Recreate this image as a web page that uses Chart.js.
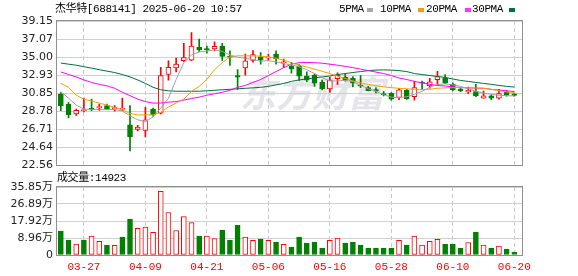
<!DOCTYPE html>
<html>
<head>
<meta charset="utf-8">
<script src="https://cdn.jsdelivr.net/npm/chart.js@4.4.0/dist/chart.umd.min.js"></script>
<style>
body{margin:0;background:#fff;width:578px;height:276px;overflow:hidden;position:relative;font-family:"Liberation Mono","Noto Sans CJK SC",monospace;}
canvas{position:absolute;left:0;}
#kline{top:0}
#vol{top:172px}
.t{position:absolute;font-size:11px;letter-spacing:-0.4px;color:#000;white-space:nowrap;line-height:12px}
.sq{position:absolute;width:6px;height:4px;top:8px}
</style>
</head>
<body>
<canvas id="kline" width="578" height="176"></canvas>
<canvas id="vol" width="578" height="104"></canvas>
<div class="t" style="left:55px;top:3px">杰华特[688141] 2025-06-20 10:57</div>
<div class="t" style="left:339px;top:3px">5PMA</div><div class="sq" style="left:367px;background:#a8a8a8"></div>
<div class="t" style="left:380px;top:3px">10PMA</div><div class="sq" style="left:418px;background:#f0a000"></div>
<div class="t" style="left:426px;top:3px">20PMA</div><div class="sq" style="left:465px;background:#ff33ff"></div>
<div class="t" style="left:472px;top:3px">30PMA</div><div class="sq" style="left:509px;background:#00703c"></div>
<div class="t" style="left:57px;top:172px">成交量:14923</div>
<script>
const dates = ['03-24','03-25','03-26','03-27','03-28','03-31','04-01','04-02','04-03','04-07',
  '04-08','04-09','04-10','04-11','04-14','04-15','04-16','04-17','04-18','04-21',
  '04-22','04-23','04-24','04-25','04-28','04-29','04-30','05-06','05-07','05-08',
  '05-09','05-12','05-13','05-14','05-15','05-16','05-19','05-20','05-21','05-22',
  '05-23','05-26','05-27','05-28','05-29','05-30','06-03','06-04','06-05','06-06',
  '06-09','06-10','06-11','06-12','06-13','06-16','06-17','06-18','06-19','06-20'];
const dateTickIdx = [3, 11, 19, 27, 35, 43, 51, 59];

const openP = [30.74, 29.61, 28.47, 28.85, 29.12, 29.19, 29.42, 29.08, 29.00, 27.23,
  26.70, 26.59, 29.04, 28.55, 33.00, 33.75, 34.58, 34.66, 36.13, 35.94,
  35.94, 36.28, 35.07, 32.89, 33.75, 34.62, 35.03, 34.88, 35.34, 34.35,
  33.94, 33.94, 32.81, 32.92, 32.13, 31.34, 32.51, 32.70, 32.55, 31.75,
  31.49, 31.26, 30.81, 30.85, 30.36, 31.19, 30.47, 32.09, 31.68, 32.40,
  32.62, 31.87, 31.34, 31.00, 31.04, 30.28, 30.55, 30.28, 31.00, 30.77];
const closeP = [29.42, 28.40, 28.89, 28.93, 29.00, 29.30, 29.08, 29.15, 29.08, 25.83,
  26.97, 27.80, 28.36, 32.89, 33.83, 34.20, 34.96, 36.28, 35.83, 35.86,
  36.24, 35.07, 34.99, 32.70, 34.58, 35.30, 34.66, 34.99, 34.81, 34.43,
  33.64, 32.81, 32.36, 32.02, 31.38, 32.36, 32.92, 32.36, 32.02, 31.68,
  31.15, 31.08, 30.70, 30.17, 31.23, 30.21, 31.49, 32.02, 32.17, 32.77,
  32.02, 31.23, 31.11, 31.19, 30.55, 30.55, 30.28, 30.81, 30.62, 30.59];
const highP = [30.93, 29.79, 29.04, 30.28, 30.17, 29.61, 29.61, 29.42, 30.28, 29.42,
  27.16, 29.23, 29.15, 33.83, 34.58, 34.88, 36.58, 37.82, 37.07, 36.28,
  36.77, 36.58, 35.71, 33.56, 35.34, 35.75, 35.52, 35.34, 35.71, 34.77,
  34.39, 34.13, 33.30, 33.07, 32.36, 32.70, 33.19, 33.07, 32.77, 32.89,
  31.64, 31.49, 31.08, 30.93, 31.42, 31.30, 32.24, 32.24, 32.55, 33.38,
  33.00, 32.06, 31.49, 31.57, 31.87, 31.11, 30.66, 31.30, 31.19, 30.77];
const lowP = [28.85, 28.02, 28.29, 28.70, 28.85, 28.89, 29.00, 28.78, 28.85, 24.22,
  26.51, 25.83, 28.21, 28.47, 32.36, 33.30, 34.51, 34.58, 35.64, 35.45,
  35.71, 34.62, 34.05, 31.30, 32.92, 34.43, 34.20, 34.62, 34.20, 33.83,
  33.15, 32.32, 32.17, 31.64, 31.23, 30.96, 31.87, 32.24, 31.57, 31.49,
  31.11, 30.89, 30.55, 30.06, 30.10, 30.13, 30.06, 31.30, 31.42, 31.79,
  31.94, 31.11, 31.04, 30.81, 30.47, 30.28, 30.10, 30.17, 30.51, 30.51];

const ma5 = [31.02, 30.28, 29.49, 29.04, 28.98, 28.98, 28.98, 28.98, 28.81, 28.25,
  27.80, 27.57, 28.14, 29.15, 30.28, 32.43, 34.36, 35.26, 35.60, 35.71,
  35.83, 35.66, 35.26, 34.98, 34.87, 34.70, 34.53, 34.58, 34.47, 34.24,
  34.13, 33.90, 33.56, 33.11, 32.66, 32.26, 32.26, 32.32, 32.21, 31.75,
  31.36, 31.08, 30.68, 30.40, 30.34, 30.45, 30.74, 31.08, 31.53, 31.87,
  31.92, 31.81, 31.64, 31.36, 31.08, 30.85, 30.74, 30.62, 30.57, 30.54];
const ma10 = [31.98, 31.53, 30.62, 30.17, 29.95, 29.72, 29.49, 29.23, 28.93, 28.53,
  28.36, 28.36, 28.36, 28.67, 29.27, 29.72, 30.17, 31.08, 31.64, 32.43,
  33.56, 34.36, 35.03, 35.15, 35.15, 35.15, 35.11, 35.03, 34.87, 34.64,
  34.36, 34.07, 33.87, 33.62, 33.37, 33.11, 32.81, 32.55, 32.26, 32.04,
  31.87, 31.70, 31.59, 31.49, 31.42, 31.36, 31.30, 31.25, 31.30, 31.42,
  31.47, 31.49, 31.53, 31.47, 31.45, 31.42, 31.30, 31.13, 31.00, 30.93];
const ma20 = [33.30, 33.00, 32.72, 32.38, 32.09, 31.87, 31.70, 31.42, 30.96, 30.57,
  30.17, 29.89, 29.72, 29.72, 29.83, 29.89, 30.06, 30.25, 30.40, 30.62,
  30.79, 30.96, 31.19, 31.53, 31.75, 32.09, 32.43, 32.89, 33.34, 33.79,
  34.19, 34.36, 34.39, 34.36, 34.30, 34.19, 34.07, 33.94, 33.79, 33.62,
  33.45, 33.28, 33.11, 32.89, 32.60, 32.43, 32.21, 32.04, 31.87, 31.75,
  31.68, 31.59, 31.49, 31.47, 31.44, 31.42, 31.30, 31.22, 31.13, 31.04];
const ma30 = [34.32, 34.19, 34.07, 33.90, 33.73, 33.56, 33.39, 33.23, 33.00, 32.72,
  32.38, 31.98, 31.53, 31.25, 31.13, 31.08, 31.08, 31.08, 31.08, 31.13,
  31.19, 31.25, 31.30, 31.36, 31.42, 31.47, 31.53, 31.64, 31.81, 31.98,
  32.21, 32.38, 32.49, 32.60, 32.72, 32.83, 33.00, 33.11, 33.23, 33.34,
  33.45, 33.51, 33.53, 33.51, 33.45, 33.34, 33.11, 33.00, 32.89, 32.77,
  32.66, 32.49, 32.32, 32.21, 32.09, 31.98, 31.87, 31.75, 31.64, 31.56];

// volume in 万
const volume = [12.6, 7.9, 5.8, 7.9, 10.0, 7.2, 5.2, 5.1, 9.4, 18.9,
  14.0, 14.7, 11.9, 33.6, 22.4, 12.9, 20.3, 17.1, 10.0, 10.0,
  8.7, 13.1, 7.9, 15.7, 9.4, 7.7, 8.4, 7.7, 6.8, 5.6,
  4.2, 9.4, 6.3, 6.8, 3.7, 7.7, 8.9, 6.3, 6.8, 5.2,
  3.7, 3.7, 3.7, 3.7, 7.7, 5.2, 10.0, 5.2, 7.2, 8.2,
  5.8, 5.8, 3.7, 6.6, 12.1, 5.2, 3.7, 4.7, 3.1, 1.49];
const volUp = [0,0,1,0,1,1,0,1,0,0, 1,1,1,1,1,1,1,1,0,1, 1,0,0,0,1,1,0,1,0,1,
  0,0,0,0,0,1,1,0,0,0, 0,0,0,0,1,0,1,1,1,1, 0,0,0,1,0,1,0,1,0,0];

const priceTicks = [22.56, 24.64, 26.71, 28.78, 30.85, 32.93, 35.00, 37.07, 39.15];
const volTicks = [0, 8.96, 17.92, 26.89, 35.85];

const RED = '#ff0000', GREEN = '#008000';
const up = closeP.map((c, i) => c >= openP[i]);
const pts = arr => arr.map((v, i) => ({x: i, y: v}));

const frame = {
    id: 'frame',
    afterDatasetsDraw(chart) {
        const a = chart.chartArea, ctx = chart.ctx;
        ctx.save();
        ctx.strokeStyle = '#909090';
        ctx.lineWidth = 1;
        ctx.strokeRect(Math.round(a.left) - 0.5, Math.round(a.top) - 0.5,
            Math.round(a.right - a.left) + 1, Math.round(a.bottom - a.top) + 1);
        ctx.restore();
    }
};

const watermark = {
    id: 'watermark',
    beforeDatasetsDraw(chart) {
        const ctx = chart.ctx;
        ctx.save();
        ctx.fillStyle = 'rgba(205,205,215,0.55)';
        ctx.font = 'italic bold 36px "Noto Sans CJK SC"';
        ctx.textBaseline = 'middle';
        ctx.fillText('东方财富', 240, 93);
        ctx.restore();
    }
};

function xScale(showLabels) {
    return {
        type: 'linear', min: -0.5, max: 60, offset: false,
        afterBuildTicks: s => { s.ticks = dateTickIdx.map(v => ({value: v})); },
        afterFit: s => { s.height = showLabels ? 21 : 0; },
        grid: {color: '#c8c8c8', drawTicks: false, offset: false},
        border: {display: false, dash: [4, 3]},
        ticks: {
            display: showLabels, autoSkip: false, maxRotation: 0, padding: 5,
            color: RED, font: {family: 'Liberation Mono', size: 11},
            callback: v => dates[v]
        }
    };
}

function line(data, color) {
    return {type: 'line', data: pts(data), borderColor: color, borderWidth: 1,
        pointRadius: 0, tension: 0, fill: false, order: 0};
}

new Chart(document.getElementById('kline'), {
    type: 'bar',
    data: {
        datasets: [
            line(ma5, '#a0a0a0'),
            line(ma10, '#f5a000'),
            line(ma20, '#ff00ff'),
            line(ma30, '#006f3c'),
            {
                data: openP.map((o, i) => ({x: i, y: [o, closeP[i]]})),
                backgroundColor: up.map(u => u ? '#ffffff' : GREEN),
                borderColor: up.map(u => u ? RED : GREEN),
                borderWidth: 1, borderSkipped: false, barThickness: 5,
                grouped: false, minBarLength: 1, order: 1
            },
            {
                data: lowP.map((l, i) => ({x: i, y: [l, highP[i]]})),
                backgroundColor: up.map(u => u ? RED : GREEN),
                borderWidth: 0, barThickness: 1, grouped: false, order: 2
            }
        ]
    },
    options: {
        responsive: false, animation: false, devicePixelRatio: 1,
        layout: {padding: {left: 0, right: 56, top: 21, bottom: 10}},
        plugins: {legend: {display: false}, tooltip: {enabled: false}},
        scales: {
            x: xScale(false),
            y: {
                type: 'linear', min: 22.56, max: 39.15, beginAtZero: false,
                afterFit: s => { s.width = 57; },
                afterBuildTicks: s => { s.ticks = priceTicks.map(v => ({value: v})); },
                grid: {color: '#d0d0d0', drawTicks: false},
                border: {display: false},
                ticks: {padding: 4, color: '#222', font: {family: "'DejaVu Sans'", size: 11},
                    callback: v => v.toFixed(2)}
            }
        }
    },
    plugins: [watermark, frame]
});

new Chart(document.getElementById('vol'), {
    type: 'bar',
    data: {
        datasets: [{
            data: pts(volume),
            backgroundColor: volUp.map(u => u ? '#ffffff' : GREEN),
            borderColor: volUp.map(u => u ? RED : GREEN),
            borderWidth: 1, borderSkipped: false, barThickness: 5, grouped: false
        }]
    },
    options: {
        responsive: false, animation: false, devicePixelRatio: 1,
        layout: {padding: {left: 0, right: 56, top: 15, bottom: 0}},
        plugins: {legend: {display: false}, tooltip: {enabled: false}},
        scales: {
            x: xScale(true),
            y: {
                type: 'linear', min: 0, max: 35.85,
                afterFit: s => { s.width = 57; },
                afterBuildTicks: s => { s.ticks = volTicks.map(v => ({value: v})); },
                grid: {color: '#d0d0d0', drawTicks: false},
                border: {display: false},
                ticks: {padding: 4, color: '#222', font: {family: "'DejaVu Sans', 'Noto Sans CJK SC'", size: 11},
                    callback: v => v === 0 ? '0' : v.toFixed(2) + '万'}
            }
        }
    },
    plugins: [frame]
});
</script>
</body>
</html>
